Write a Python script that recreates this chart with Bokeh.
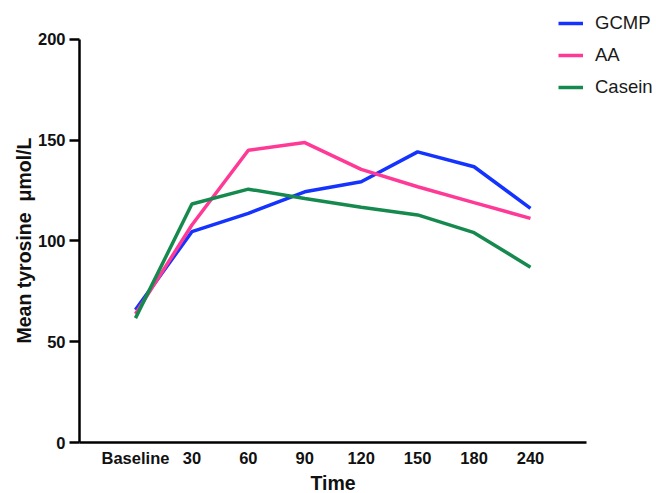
from bokeh.plotting import figure
from bokeh.models import FixedTicker, Legend, LegendItem, Range1d, Title
from bokeh.embed import file_html
from bokeh.resources import INLINE

categories = ["Baseline", "30", "60", "90", "120", "150", "180", "240"]
gcmp = [65.8, 104.6, 113.7, 124.4, 129.4, 144.2, 136.8, 116.2]
aa = [63.8, 107.9, 145.0, 148.8, 135.5, 126.9, 119.0, 111.2]
casein = [61.7, 118.3, 125.7, 121.1, 116.7, 112.9, 104.1, 87.0]
y_ticks = [0, 50, 100, 150, 200]

FONT = "Liberation Sans"
x = list(range(len(categories)))

# frame spans the whole upper-right area so the legend is not clipped;
# axis lines are limited with bounds
X0, X_AXIS_END, X_END = -0.992, 8.0, 9.233
Y_TOP = 219.3

p = figure(width=656, height=493, output_backend="svg", toolbar_location=None,
           x_range=Range1d(X0, X_END), y_range=Range1d(0, Y_TOP),
           min_border_left=79, min_border_right=0, min_border_top=0, min_border_bottom=50)
p.outline_line_color = None
p.grid.grid_line_color = None
p.background_fill_color = "white"
p.border_fill_color = "white"

r1 = p.line(x, gcmp, line_color="#1433ff", line_width=3.5)
r2 = p.line(x, aa, line_color="#ff3996", line_width=3.5)
r3 = p.line(x, casein, line_color="#168a4e", line_width=3.5)

xa = p.xaxis[0]
xa.bounds = (X0, X_AXIS_END)
xa.ticker = FixedTicker(ticks=x)
xa.major_label_overrides = {i: c for i, c in enumerate(categories)}
xa.major_tick_line_color = None
xa.major_tick_out = 0
xa.major_tick_in = 0
xa.minor_tick_line_color = None
xa.axis_line_width = 2.5
xa.axis_line_color = "black"
xa.major_label_text_font = FONT
xa.major_label_text_font_style = "bold"
xa.major_label_text_font_size = "16.5px"
xa.major_label_text_color = "#111111"
xa.major_label_standoff = 6

ya = p.yaxis[0]
ya.bounds = (0, 200)
ya.ticker = FixedTicker(ticks=y_ticks)
ya.minor_tick_line_color = None
ya.major_tick_out = 10
ya.major_tick_in = 0
ya.major_tick_line_width = 2.5
ya.axis_line_width = 2.5
ya.axis_line_color = "black"
ya.major_label_text_font = FONT
ya.major_label_text_font_style = "bold"
ya.major_label_text_font_size = "16.5px"
ya.major_label_text_color = "#111111"
ya.major_label_standoff = 4

x_title = Title(text="Time", align="left", offset=231, standoff=0,
                text_font=FONT, text_font_style="bold", text_font_size="19.5px",
                text_color="#111111")
p.add_layout(x_title, "below")

y_title = Title(text="Mean tyrosine \u00a0\u03bcmol/L", align="left", offset=99, standoff=0,
                text_font=FONT, text_font_style="bold", text_font_size="19.5px",
                text_color="#111111")
p.add_layout(y_title, "left")

legend = Legend(items=[LegendItem(label="GCMP", renderers=[r1]),
                       LegendItem(label="AA", renderers=[r2]),
                       LegendItem(label="Casein", renderers=[r3])],
                location=(479, 344))
legend.border_line_color = None
legend.background_fill_alpha = 0
legend.padding = 0
legend.margin = 0
legend.spacing = 10
legend.label_height = 22
legend.glyph_height = 22
legend.glyph_width = 25
legend.label_standoff = 12
legend.label_text_font = FONT
legend.label_text_font_size = "18.5px"
legend.label_text_color = "#1a1a1a"
p.add_layout(legend, "center")

open("out.html", "w").write(file_html(p, INLINE))
